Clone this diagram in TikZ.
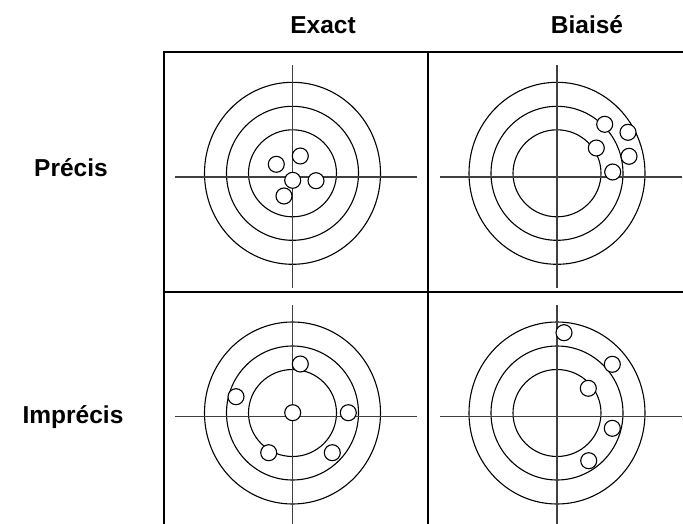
\documentclass[tikz,border=0pt]{standalone}
\usepackage{fontspec}
\setmainfont{Liberation Sans}
\begin{document}
\begin{tikzpicture}[x=1pt,y=-1pt,
  grid/.style={line width=1.5pt,black},
  ring/.style={line width=1.1pt,black},
  crossline/.style={line width=1.5pt,black!75},
  shot/.style={line width=1.1pt,black,fill=white},
  lbl/.style={font=\fontsize{24.5}{29}\selectfont\bfseries,inner sep=0pt},
  target/.pic={
    \draw[ring] (0,-3.7) ellipse [x radius=88, y radius=91];
    \draw[ring] (0,-3.7) ellipse [x radius=66, y radius=67];
    \draw[ring] (0,-3.7) ellipse [x radius=44, y radius=43.5];
    \draw[crossline] (-117.5,0) -- (124.5,0);
    \draw[crossline] (0,-112) -- (0,111);
  }]
\useasboundingbox (0,0) rectangle (683,524);
% grid
\draw[grid] (683,52) -- (164,52) -- (164,524);
\draw[grid] (164,292) -- (683,292);
\draw[grid] (428,52) -- (428,524);
% targets
\pic at (292.5,177) {target};
\pic at (557,177) {target};
\pic at (292.5,416.7) {target};
\pic at (557,416.7) {target};
% shots
\foreach \p in {(276.3,164.3),(300.3,156),(292.7,180.3),(316,180.7),(284,196),
                (604.7,124.3),(628,132.3),(596.3,148),(629,156.3),(612.7,172),
                (236,396.7),(300.3,364),(292.7,412.7),(348.3,412.7),(268.7,452.7),(332.3,452.7),
                (564,332.7),(612.3,364.3),(588.3,388.3),(612.3,428.3),(588.7,460.7)}
  \draw[shot] \p circle [radius=8];
% labels
\node[lbl] (exact) at (323,25) {Exact};
\node[lbl] (biaise) at (587,25) {Biaisé};
\node[lbl] (precis) at (71,168) {Précis};
\node[lbl] (imprecis) at (73,417) {Imprécis};
\end{tikzpicture}
\end{document}
